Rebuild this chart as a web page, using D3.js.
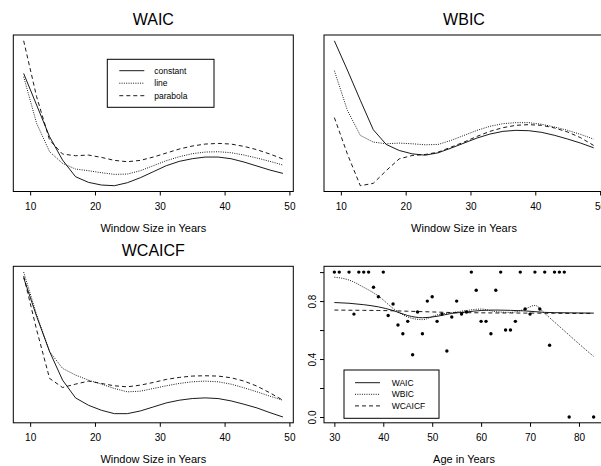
<!DOCTYPE html>
<html>
<head>
<meta charset="utf-8">
<script src="https://cdn.jsdelivr.net/npm/d3@7"></script>
<style>
  body { margin: 0; background: #fff; }
  svg { font-family: "Liberation Sans", Arial, sans-serif; }
</style>
</head>
<body>
<div id="chart"></div>
<script>

// window sizes (years) used in the three criterion panels
const windowSizes = [9, 11, 13, 15, 17, 19, 21, 23, 25, 27, 29, 31, 33, 35, 37, 39, 41, 43, 45, 47, 49]
const windowTicks = [10, 20, 30, 40, 50]

// WAIC panel (relative criterion value)
const waicConstant = [38.0, 28.5, 19.0, 12.0, 7.0, 5.3, 4.5, 4.3, 5.2, 6.7, 8.5, 10.3, 11.6, 12.4, 12.9, 12.9, 12.4, 11.4, 10.2, 9.0, 8.0]
const waicLine = [37.0, 23.0, 14.5, 11.0, 9.3, 8.8, 8.2, 7.7, 7.8, 8.8, 10.3, 11.8, 13.0, 13.9, 14.4, 14.5, 14.2, 13.5, 12.6, 11.6, 10.5]
const waicParabola = [47.8, 31.0, 18.0, 13.8, 13.3, 13.5, 12.8, 11.9, 11.5, 11.9, 12.9, 14.1, 15.3, 16.2, 16.8, 17.0, 16.8, 16.1, 15.1, 13.8, 12.3]

// WBIC panel
const wbicConstant = [47.7, 39.0, 30.0, 21.2, 16.8, 15.0, 14.0, 13.6, 14.3, 15.7, 17.2, 18.7, 19.9, 20.7, 21.0, 20.9, 20.4, 19.5, 18.4, 17.2, 15.8]
const wbicLine = [38.8, 27.0, 19.5, 17.5, 17.0, 17.2, 17.0, 16.7, 16.8, 18.0, 19.5, 21.0, 22.2, 23.0, 23.3, 23.3, 22.8, 22.0, 21.0, 19.8, 18.4]
const wbicParabola = [24.8, 14.0, 4.5, 5.2, 9.0, 12.5, 13.5, 13.8, 14.5, 16.0, 17.5, 19.2, 20.7, 21.8, 22.5, 22.7, 22.5, 21.7, 20.5, 18.8, 16.5]

// WCAICF panel
const wcaicfConstant = [46.5, 35.0, 24.5, 16.0, 10.7, 8.5, 7.0, 6.0, 6.0, 6.8, 8.0, 9.2, 10.0, 10.5, 10.7, 10.5, 9.8, 8.8, 7.7, 6.3, 5.0]
const wcaicfLine = [48.2, 35.5, 24.5, 19.5, 17.5, 16.0, 14.8, 13.5, 12.5, 12.7, 13.5, 14.3, 15.0, 15.5, 15.7, 15.5, 14.8, 13.7, 12.5, 11.2, 10.0]
const wcaicfParabola = [47.0, 31.0, 16.5, 13.8, 14.8, 15.7, 15.0, 14.3, 14.0, 14.5, 15.3, 16.2, 16.8, 17.2, 17.3, 17.2, 16.7, 15.7, 14.2, 12.2, 10.0]

const modelNames = ['constant', 'line', 'parabola']

// age panel: observed points
const ages = [30, 31, 33, 34, 35, 36, 37, 38, 39, 40, 41, 42, 43, 44, 45, 46, 47, 48, 49, 50,
              51, 52, 53, 54, 55, 56, 57, 58, 59, 60, 61, 62, 63, 64, 65, 66, 67, 68, 69, 70,
              71, 72, 73, 74, 75, 76, 77, 78, 83]
const observed = [1, 1, 1, 0.71, 1, 1, 1, 0.895, 0.83, 1,
                  0.70, 0.78, 0.635, 0.575, 0.66, 0.43, 0.725, 0.575, 0.80, 0.83,
                  0.66, 0.71, 0.455, 0.69, 0.80, 0.71, 0.725, 1, 0.875, 0.66,
                  0.66, 0.575, 0.875, 1, 0.60, 0.60, 0.66, 1, 0.745, 0.71,
                  1, 0.745, 1, 0.495, 1, 1, 1, 0, 0]

// age panel: fitted curves
const curveAges = [30, 33, 36, 39, 42, 45, 48, 51, 54, 57, 60, 63, 66, 69, 71, 73, 75, 78, 80, 83]
const fitWAIC = [0.79, 0.785, 0.775, 0.76, 0.735, 0.70, 0.685, 0.695, 0.715, 0.725, 0.735, 0.738, 0.736, 0.732, 0.727, 0.722, 0.72, 0.719, 0.718, 0.717]
const fitWBIC = [0.965, 0.945, 0.895, 0.835, 0.75, 0.69, 0.672, 0.705, 0.72, 0.735, 0.745, 0.727, 0.722, 0.745, 0.77, 0.715, 0.655, 0.565, 0.505, 0.418]
const fitWCAICF = [0.738, 0.737, 0.736, 0.735, 0.733, 0.73, 0.727, 0.724, 0.721, 0.72, 0.719, 0.718, 0.718, 0.717, 0.717, 0.716, 0.716, 0.715, 0.715, 0.715]
const fitNames = ['WAIC', 'WBIC', 'WCAICF']
const ageTicks = [30, 40, 50, 60, 70, 80]
const probTicks = [0, 0.2, 0.4, 0.6, 0.8, 1.0]
const probLabels = ['0.0', '', '0.4', '', '0.8', '']

const dashes = [null, '1,1.3', '4,3']

const W = 601, H = 466
const pw = 280, ph = 156.5

const svg = d3.select('#chart').append('svg')
  .attr('width', W)
  .attr('height', H)

// R style: data range stretched by 4% on both sides
function pad(ext) {
  const d = (ext[1] - ext[0]) * 0.04
  return [ext[0] - d, ext[1] + d]
}

function panel(left, top, opts) {
  const g = svg.append('g').attr('transform', 'translate(' + left + ',' + top + ')')
  const x = d3.scaleLinear().domain(pad(d3.extent(opts.xs))).range([0, pw])
  const allY = opts.series.flat()
  const y = d3.scaleLinear().domain(opts.yDomain || pad(d3.extent(allY))).range([ph, 0])

  const xAxis = g.append('g')
    .attr('transform', 'translate(0,' + ph + ')')
    .call(d3.axisBottom(x).tickValues(opts.xTicks).tickSize(4).tickSizeOuter(0).tickPadding(7))
  xAxis.select('.domain').remove()
  xAxis.selectAll('text').attr('font-size', 10).attr('fill', '#000').attr('font-family', null)
  xAxis.selectAll('line').attr('stroke', '#000')

  if (opts.yTicks) {
    const yAxis = g.append('g')
      .call(d3.axisLeft(y).tickValues(opts.yTicks).tickSize(4).tickSizeOuter(0)
        .tickFormat((d, i) => opts.yLabels[i]))
    yAxis.select('.domain').remove()
    yAxis.selectAll('line').attr('stroke', '#000')
    yAxis.selectAll('text')
      .attr('font-size', 10).attr('fill', '#000').attr('font-family', null)
      .attr('transform', 'rotate(-90)')
      .attr('x', 0).attr('y', -8).attr('dy', 0)
      .attr('text-anchor', 'middle')
  }

  // curves
  opts.series.forEach((vals, i) => {
    const line = d3.line()
      .x((d, j) => x(opts.xs[j]))
      .y(d => y(d))
      .curve(opts.curve || d3.curveLinear)
    g.append('path')
      .datum(vals)
      .attr('fill', 'none')
      .attr('stroke', '#000')
      .attr('stroke-width', 0.9)
      .attr('stroke-dasharray', dashes[i])
      .attr('d', line)
  })

  if (opts.points) {
    g.selectAll('circle.pt')
      .data(opts.points.ys)
      .join('circle')
        .attr('class', 'pt')
        .attr('cx', (d, i) => x(opts.points.xs[i]))
        .attr('cy', d => y(d))
        .attr('r', 1.7)
        .attr('fill', '#000')
  }

  // frame
  g.append('rect')
    .attr('width', pw).attr('height', ph)
    .attr('fill', 'none').attr('stroke', '#000').attr('stroke-width', 1)

  if (opts.title) {
    g.append('text')
      .attr('x', pw / 2).attr('y', -10)
      .attr('text-anchor', 'middle')
      .attr('font-size', 16)
      .text(opts.title)
  }
  g.append('text')
    .attr('x', pw / 2).attr('y', ph + 40)
    .attr('text-anchor', 'middle')
    .attr('font-size', 11)
    .text(opts.xLabel)

  if (opts.legend) {
    const L = opts.legend
    const lg = g.append('g').attr('transform', 'translate(' + L.x + ',' + L.y + ')')
    lg.append('rect')
      .attr('width', L.w).attr('height', L.h)
      .attr('fill', '#fff').attr('stroke', '#000')
    L.names.forEach((name, i) => {
      const ry = L.first + i * L.step
      lg.append('line')
        .attr('x1', L.lx).attr('x2', L.lx + 25)
        .attr('y1', ry).attr('y2', ry)
        .attr('stroke', '#000').attr('stroke-width', 0.9)
        .attr('stroke-dasharray', dashes[i])
      lg.append('text')
        .attr('x', L.tx).attr('y', ry + 3)
        .attr('font-size', 8.5)
        .text(name)
    })
  }
}

const col2 = 324, row2 = 266.3
const left1 = 13.3, top1 = 35

panel(left1, top1, {
  title: 'WAIC', xLabel: 'Window Size in Years',
  xs: windowSizes, xTicks: windowTicks,
  series: [waicConstant, waicLine, waicParabola],
  legend: { x: 94, y: 24.3, w: 106.7, h: 48, lx: 12, tx: 47, first: 11.4, step: 12.5, names: modelNames }
})

panel(col2, top1, {
  title: 'WBIC', xLabel: 'Window Size in Years',
  xs: windowSizes, xTicks: windowTicks,
  series: [wbicConstant, wbicLine, wbicParabola]
})

panel(left1, row2, {
  title: 'WCAICF', xLabel: 'Window Size in Years',
  xs: windowSizes, xTicks: windowTicks,
  series: [wcaicfConstant, wcaicfLine, wcaicfParabola]
})

panel(col2, row2, {
  xLabel: 'Age in Years',
  xs: curveAges, xTicks: ageTicks,
  yDomain: pad([0, 1]), yTicks: probTicks, yLabels: probLabels,
  series: [fitWAIC, fitWBIC, fitWCAICF],
  curve: d3.curveMonotoneX,
  points: { xs: ages, ys: observed },
  legend: { x: 20, y: 103.7, w: 95, h: 48.3, lx: 11, tx: 47.7, first: 12.7, step: 11.6, names: fitNames }
})

</script>
</body>
</html>
